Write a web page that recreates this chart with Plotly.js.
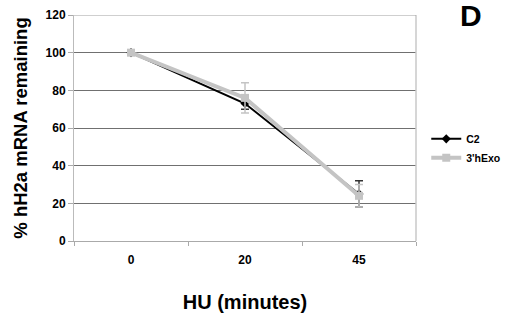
<!DOCTYPE html>
<html>
<head>
<meta charset="utf-8">
<script src="https://cdn.plot.ly/plotly-3.0.1.min.js"></script>
<style>html,body{margin:0;padding:0;background:#fff;}#chart{width:506px;height:320px;}</style>
</head>
<body>
<div id="chart"></div>
<script>
var categories = ['0', '20', '45'];
var c2Values = [100, 73, 25];
var c2Errors = [0, 3, 7];
var hExoValues = [100, 76, 24];
var hExoErrors = [0, 8, 6];
var yTicks = [0, 20, 40, 60, 80, 100, 120];

var font = 'Arial, "Liberation Sans", sans-serif';

var traces = [
  {
    x: categories, y: c2Values, name: 'C2', type: 'scatter', mode: 'lines+markers',
    line: {color: '#000000', width: 2},
    marker: {symbol: 'diamond', size: 7, color: '#000000'},
    error_y: {type: 'data', array: c2Errors, visible: true, color: '#333333', thickness: 1.5, width: 4}
  },
  {
    x: categories, y: hExoValues, name: "3'hExo", type: 'scatter', mode: 'lines+markers',
    line: {color: '#c4c4c4', width: 4},
    marker: {symbol: 'square', size: 8, color: '#c4c4c4'},
    error_y: {type: 'data', array: hExoErrors, visible: true, color: '#c4c4c4', thickness: 1.5, width: 4}
  }
];

var layout = {
  width: 506, height: 320,
  margin: {l: 74, r: 90, t: 15, b: 79, autoexpand: false},
  paper_bgcolor: '#ffffff', plot_bgcolor: '#ffffff',
  font: {family: font, color: '#000000'},
  showlegend: true,
  legend: {
    x: 1.03, xanchor: 'left', y: 0.41, yanchor: 'middle',
    font: {family: font, size: 10.5, weight: 'bold', color: '#000'},
    bgcolor: 'rgba(0,0,0,0)', tracegroupgap: 0, itemwidth: 30
  },
  xaxis: {
    type: 'category', range: [-0.5, 2.5],
    tickson: 'boundaries', ticks: 'outside', ticklen: 4, tickcolor: '#aaaaaa',
    showgrid: false, showline: true, linecolor: '#aaaaaa', linewidth: 1,
    mirror: false, zeroline: false, ticklabelstandoff: 8,
    tickfont: {family: font, size: 12, weight: 'bold', color: '#000'},
    title: {text: 'HU (minutes)', font: {family: font, size: 20, weight: 'bold', color: '#000'}, standoff: 28}
  },
  yaxis: {
    range: [0, 120], tickvals: yTicks, ticktext: yTicks.map(String),
    ticks: 'outside', ticklen: 5, tickcolor: '#aaaaaa',
    showgrid: true, gridcolor: '#707070', gridwidth: 1,
    showline: true, linecolor: '#bbbbbb', linewidth: 1,
    zeroline: false,
    tickfont: {family: font, size: 12, weight: 'bold', color: '#000'},
    title: {text: '% hH2a mRNA remaining', font: {family: font, size: 18.5, weight: 'bold', color: '#000'}, standoff: 13}
  },
  shapes: [
    {type: 'line', xref: 'paper', yref: 'paper', x0: 1, x1: 1, y0: 0, y1: 1, line: {color: '#c8c8c8', width: 1.5}},
    {type: 'line', xref: 'paper', yref: 'y', x0: 0, x1: 1, y0: 120, y1: 120, line: {color: '#a0a0a0', width: 1}}
  ],
  annotations: [
    {text: 'D', xref: 'paper', yref: 'paper', x: 1.161, y: 1.0, xanchor: 'center', yanchor: 'middle', showarrow: false,
     font: {family: font, size: 30, weight: 'bold', color: '#000'}}
  ]
};

Plotly.newPlot('chart', traces, layout, {displayModeBar: false, staticPlot: true});
</script>
</body>
</html>
